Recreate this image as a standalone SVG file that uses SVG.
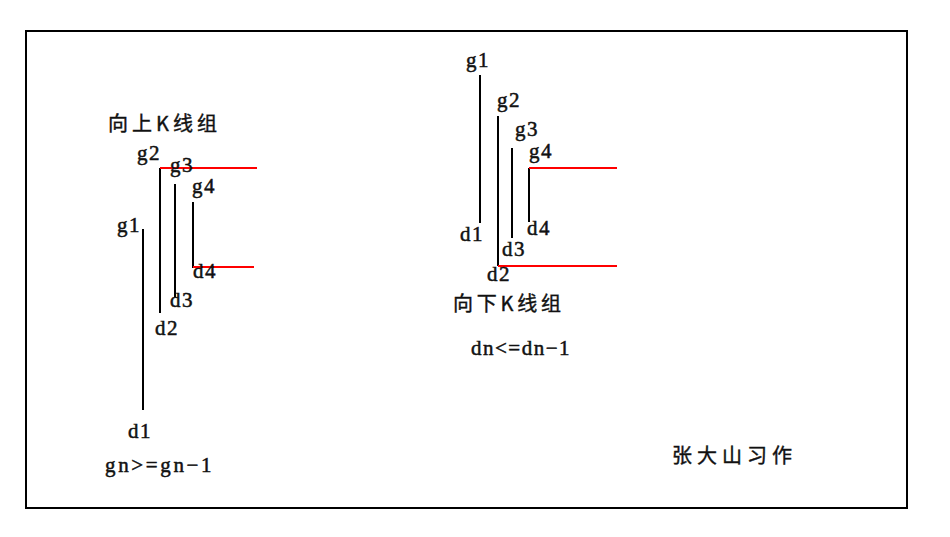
<svg xmlns="http://www.w3.org/2000/svg" width="950" height="537" viewBox="0 0 950 537">
<style>
.lbl{font-family:"Liberation Serif","Noto Serif",serif;font-size:21px;fill:#111;stroke:#111;stroke-width:0.5;letter-spacing:1.5px}
.cjk{font-family:"Noto Sans CJK SC",sans-serif;font-size:20px;fill:#111;stroke:#111;stroke-width:0.4}
.k{stroke:#000;stroke-width:2;fill:none}
.r{stroke:#f00;stroke-width:2;fill:none}
</style>
<rect x="0" y="0" width="950" height="537" fill="#fff"/>
<rect id="frame" x="26" y="31" width="881" height="477" fill="none" stroke="#000" stroke-width="2"/>
<g id="connectors">
<line class="k" x1="143" y1="229" x2="143" y2="410"/>
<line class="k" x1="160" y1="168" x2="160" y2="313"/>
<line class="k" x1="175" y1="184" x2="175" y2="297"/>
<line class="k" x1="193" y1="202" x2="193" y2="268"/>
<line class="r" x1="160" y1="168" x2="257" y2="168"/>
<line class="r" x1="193" y1="267" x2="254" y2="267"/>
<line class="k" x1="480" y1="75" x2="480" y2="223"/>
<line class="k" x1="498" y1="116" x2="498" y2="266"/>
<line class="k" x1="512" y1="148" x2="512" y2="238"/>
<line class="k" x1="529" y1="168" x2="529" y2="222"/>
<line class="r" x1="529" y1="168" x2="617" y2="168"/>
<line class="r" x1="498" y1="266" x2="617" y2="266"/>
</g>
<g id="up-group">
<text class="cjk" x="108" y="131" textLength="109">向上K线组</text>
<text class="lbl" x="137" y="160">g2</text>
<text class="lbl" x="170" y="172">g3</text>
<text class="lbl" x="192" y="193">g4</text>
<text class="lbl" x="117" y="232">g1</text>
<text class="lbl" x="193" y="278">d4</text>
<text class="lbl" x="170" y="307">d3</text>
<text class="lbl" x="155" y="335">d2</text>
<text class="lbl" x="128" y="438">d1</text>
<text class="lbl" x="105" y="472" textLength="108">gn&gt;=gn−1</text>
</g>
<g id="down-group">
<text class="lbl" x="466" y="67">g1</text>
<text class="lbl" x="497" y="107">g2</text>
<text class="lbl" x="515" y="136">g3</text>
<text class="lbl" x="529" y="158">g4</text>
<text class="lbl" x="527" y="235">d4</text>
<text class="lbl" x="460" y="241">d1</text>
<text class="lbl" x="502" y="256">d3</text>
<text class="lbl" x="487" y="281">d2</text>
<text class="cjk" x="453" y="311" textLength="108">向下K线组</text>
<text class="lbl" x="471" y="355" textLength="100">dn&lt;=dn−1</text>
</g>
<g id="signature">
<text class="cjk" x="672" y="463" textLength="120">张大山习作</text>
</g>
</svg>
